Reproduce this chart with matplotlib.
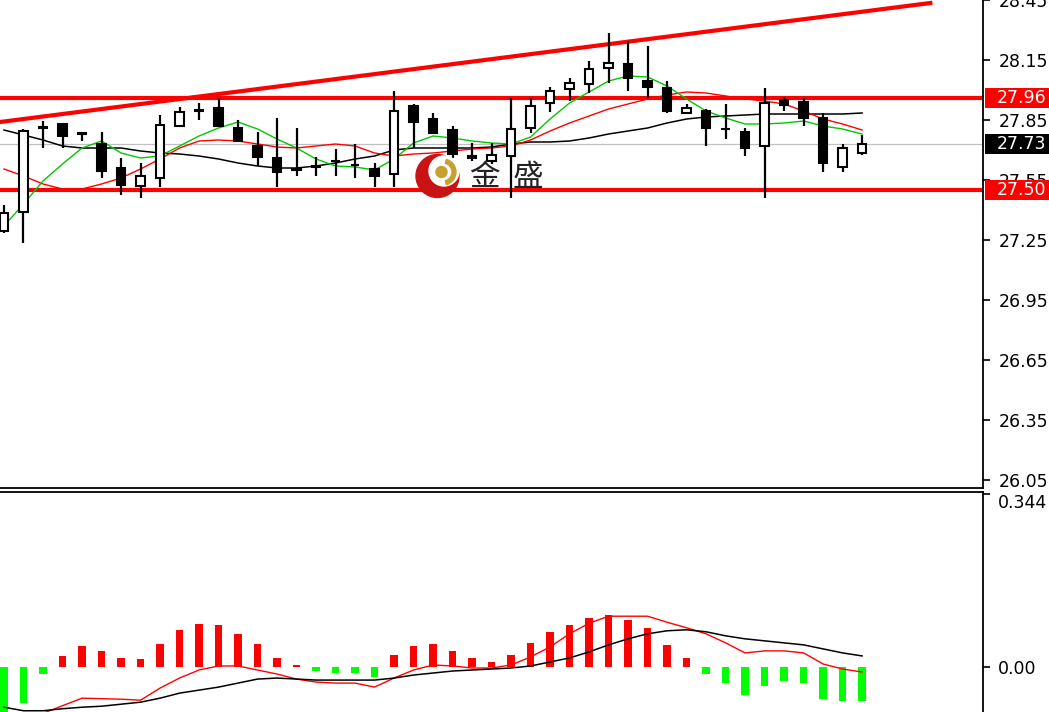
import matplotlib
matplotlib.use('Agg')
import matplotlib.pyplot as plt
import matplotlib.transforms as mtrans
from matplotlib.patches import Rectangle, Circle, Wedge
import numpy as np

# K线数据
opens = [27.295, 27.39, 27.81, 27.83, 27.78, 27.73, 27.61, 27.52, 27.56, 27.82,
         27.895, 27.91, 27.81, 27.72, 27.66, 27.60, 27.615, 27.645, 27.625, 27.605,
         27.58, 27.92, 27.855, 27.80, 27.67, 27.645, 27.67, 27.81, 27.935, 28.005,
         28.03, 28.11, 28.13, 28.045, 28.01, 27.885, 27.895, 27.805, 27.79, 27.72,
         27.95, 27.94, 27.86, 27.615, 27.685]
highs = [27.425, 27.805, 27.845, 27.83, 27.785, 27.79, 27.66, 27.635, 27.875, 27.915,
         27.935, 27.96, 27.85, 27.79, 27.86, 27.81, 27.665, 27.705, 27.73, 27.635,
         27.995, 27.93, 27.885, 27.82, 27.735, 27.735, 27.96, 27.96, 28.015, 28.06,
         28.145, 28.285, 28.245, 28.22, 28.045, 27.93, 27.905, 27.93, 27.81, 28.01,
         27.965, 27.96, 27.885, 27.73, 27.775]
lows = [27.285, 27.235, 27.71, 27.71, 27.745, 27.56, 27.475, 27.46, 27.515, 27.82,
        27.85, 27.815, 27.74, 27.62, 27.515, 27.57, 27.57, 27.57, 27.56, 27.515,
        27.515, 27.71, 27.78, 27.66, 27.645, 27.63, 27.46, 27.785, 27.89, 27.945,
        27.985, 28.035, 27.995, 27.96, 27.885, 27.88, 27.72, 27.755, 27.67, 27.46,
        27.895, 27.82, 27.59, 27.59, 27.675]
closes = [27.385, 27.795, 27.815, 27.77, 27.785, 27.595, 27.525, 27.57, 27.825, 27.89,
          27.90, 27.82, 27.745, 27.665, 27.59, 27.605, 27.62, 27.645, 27.625, 27.57,
          27.895, 27.84, 27.785, 27.68, 27.66, 27.675, 27.805, 27.92, 27.995, 28.035,
          28.105, 28.135, 28.06, 28.015, 27.895, 27.91, 27.81, 27.805, 27.71, 27.935,
          27.925, 27.86, 27.635, 27.71, 27.73]

# 均线
ma_fast = [27.320, 27.430, 27.545, 27.630, 27.710, 27.745, 27.685, 27.660, 27.670, 27.720,
           27.770, 27.810, 27.840, 27.805, 27.755, 27.710, 27.655, 27.620, 27.615, 27.600,
           27.655, 27.735, 27.770, 27.760, 27.745, 27.735, 27.730, 27.765, 27.855, 27.935,
           27.990, 28.045, 28.070, 28.065, 28.020, 27.955, 27.895, 27.860, 27.830, 27.830,
           27.835, 27.845, 27.820, 27.805, 27.780]
ma_mid = [27.605, 27.570, 27.530, 27.505, 27.505, 27.530, 27.560, 27.605, 27.655, 27.710,
          27.745, 27.750, 27.745, 27.730, 27.715, 27.710, 27.720, 27.730, 27.720, 27.685,
          27.670, 27.680, 27.685, 27.695, 27.705, 27.710, 27.720, 27.750, 27.795, 27.835,
          27.870, 27.905, 27.930, 27.955, 27.975, 27.990, 27.985, 27.970, 27.955, 27.945,
          27.930, 27.895, 27.855, 27.830, 27.800]
ma_slow = [27.800, 27.775, 27.750, 27.720, 27.710, 27.710, 27.710, 27.695, 27.685, 27.680,
           27.670, 27.655, 27.635, 27.620, 27.610, 27.610, 27.620, 27.635, 27.655, 27.670,
           27.700, 27.710, 27.710, 27.710, 27.710, 27.715, 27.730, 27.740, 27.740, 27.745,
           27.760, 27.780, 27.795, 27.810, 27.835, 27.855, 27.865, 27.870, 27.875, 27.880,
           27.880, 27.880, 27.880, 27.880, 27.885]

# MACD
macd_hist = [-0.110, -0.072, -0.013, 0.021, 0.042, 0.031, 0.017, 0.015, 0.045, 0.073,
             0.086, 0.083, 0.066, 0.045, 0.017, 0.003, -0.007, -0.012, -0.012, -0.020,
             0.024, 0.042, 0.045, 0.031, 0.017, 0.010, 0.024, 0.047, 0.070, 0.083,
             0.097, 0.104, 0.093, 0.077, 0.044, 0.017, -0.013, -0.031, -0.056, -0.038,
             -0.028, -0.031, -0.064, -0.068, -0.068]
macd_red = [-0.115, -0.105, -0.092, -0.077, -0.062, -0.063, -0.064, -0.066, -0.042, -0.022,
            -0.006, 0.002, 0.002, -0.006, -0.014, -0.024, -0.030, -0.032, -0.032, -0.040,
            -0.022, -0.006, 0.004, 0.002, -0.002, -0.002, 0.004, 0.020, 0.040, 0.066,
            0.087, 0.101, 0.101, 0.101, 0.089, 0.078, 0.066, 0.048, 0.028, 0.032,
            0.032, 0.028, 0.006, -0.004, -0.010]
macd_black = [-0.080, -0.087, -0.087, -0.083, -0.080, -0.078, -0.074, -0.070, -0.062, -0.052,
              -0.046, -0.040, -0.032, -0.024, -0.022, -0.024, -0.026, -0.026, -0.026, -0.026,
              -0.022, -0.016, -0.012, -0.008, -0.006, -0.004, -0.002, 0.002, 0.010, 0.018,
              0.030, 0.044, 0.056, 0.066, 0.072, 0.074, 0.070, 0.062, 0.056, 0.052,
              0.048, 0.044, 0.036, 0.028, 0.022]

levels = [27.96, 27.50]
last_price = 27.73
trend_x = [-0.2, 47.5]
trend_y = [27.84, 28.435]
price_ticks = [28.45, 28.15, 27.85, 27.55, 27.25, 26.95, 26.65, 26.35, 26.05]
macd_ticks = [0.344, 0.0]

W, H = 1049, 712
fig = plt.figure(figsize=(W / 100, H / 100), dpi=100)
ax = fig.add_axes([0, 1 - 488 / H, 983 / W, 488 / H])
ax2 = fig.add_axes([0, 0, 983 / W, 220 / H])

x = np.arange(len(opens))
xlim = (-0.205, 50.2)
lbl_size = 12.5

# 主图
ax.axhline(last_price, color='#c0c0c0', lw=0.9, zorder=1)
for lv in levels:
	ax.axhline(lv, color='red', lw=3, zorder=2)
ax.plot(trend_x, trend_y, color='red', lw=3, zorder=2)

ax.plot(x, ma_slow, color='black', lw=1.1, zorder=3)
ax.plot(x, ma_mid, color='red', lw=1, zorder=3)
ax.plot(x, ma_fast, color='#00c800', lw=1, zorder=3)

bw = 0.42
for i in range(len(opens)):
	o, h, l, c = opens[i], highs[i], lows[i], closes[i]
	ax.vlines(x[i], l, h, color='black', lw=1.6, zorder=4)
	fc = 'white' if c >= o else 'black'
	ax.add_patch(Rectangle((x[i] - bw / 2, min(o, c)), bw, max(abs(c - o), 0.002),
	                       facecolor=fc, edgecolor='black', lw=1.5, zorder=5))

ax.set_xlim(*xlim)
ax.set_ylim(26.01, 28.45)
ax.set_xticks([])
ax.yaxis.tick_right()
ax.set_yticks(price_ticks)
ax.set_yticklabels(['%.2f' % t for t in price_ticks])
ax.tick_params(axis='y', direction='out', length=5, width=1.2, pad=6, labelsize=lbl_size, colors='black')
for s in ['left', 'top']:
	ax.spines[s].set_visible(False)
for s in ['right', 'bottom']:
	ax.spines[s].set_linewidth(1.3)

# 右侧价格标签
trans = mtrans.blended_transform_factory(ax.transAxes, ax.transData)
for val, col in [(levels[0], 'red'), (last_price, 'black'), (levels[1], 'red')]:
	ax.add_patch(Rectangle((1.002, val - 0.048), 0.08, 0.096, transform=trans,
	                       facecolor=col, edgecolor='none', clip_on=False, zorder=10))
	ax.text(1.0135, val, '%.2f' % val, transform=trans, color='white', fontsize=lbl_size,
	        va='center', ha='left', clip_on=False, zorder=11)

# 水印
lax = fig.add_axes([400 / W, 1 - 205 / H, 80 / W, 60 / H])
lax.set_xlim(400, 480)
lax.set_ylim(205, 145)
lax.axis('off')
lax.add_patch(Circle((437.5, 176), 21.5, color='#c81414'))
lax.add_patch(Circle((444, 171), 15, color='white'))
lax.add_patch(Wedge((443, 172), 13, -75, 75, width=4, color='#c8a030'))
lax.add_patch(Circle((441.5, 172), 5.5, color='#c8a030'))
fig.text(484 / W, 1 - 177 / H, '金', fontsize=22, family=['Noto Sans CJK SC'],
         color='#222222', ha='center', va='center')
fig.text(527.5 / W, 1 - 177 / H, '盛', fontsize=22, family=['Noto Sans CJK SC'],
         color='#222222', ha='center', va='center')

# MACD 副图
bar_colors = ['red' if v >= 0 else '#00ff00' for v in macd_hist]
ax2.bar(x, macd_hist, width=0.38, color=bar_colors, zorder=2)
ax2.plot(x, macd_red, color='red', lw=1, zorder=3)
ax2.plot(x, macd_black, color='black', lw=1.1, zorder=3)
ax2.set_xlim(*xlim)
ax2.set_ylim(-0.0895, 0.348)
ax2.set_xticks([])
ax2.yaxis.tick_right()
ax2.set_yticks(macd_ticks)
ax2.set_yticklabels(['0.344', '0.00'])
ax2.tick_params(axis='y', direction='out', length=5, width=1.2, pad=6, labelsize=lbl_size, colors='black')
ax2.yaxis.get_major_ticks()[0].label2.set_va('top')
for s in ['left', 'bottom']:
	ax2.spines[s].set_visible(False)
for s in ['right', 'top']:
	ax2.spines[s].set_linewidth(1.3)

fig.savefig('out.png', dpi=100)
